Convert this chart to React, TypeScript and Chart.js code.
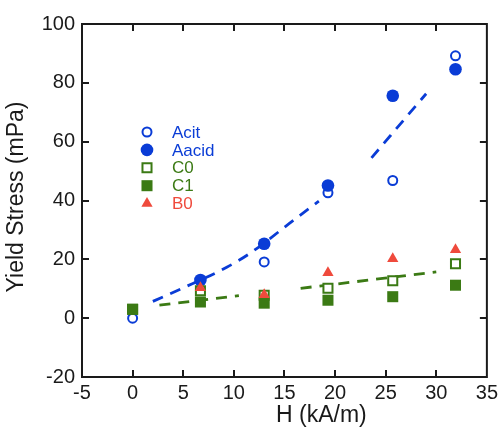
import React, { useEffect, useRef } from 'react';
import { Chart, registerables } from 'chart.js';

Chart.register(...registerables);

// ---- data ----
const H_VALUES = [0, 6.7, 13.0, 19.3, 25.7, 31.9];
const ACIT = [0, 13.0, 19.1, 42.6, 46.8, 89.2];
const AACID = [null, 13.0, 25.3, 45.1, 75.6, 84.6];
const C0 = [3.0, 9.3, 7.8, 10.2, 12.7, 18.5];
const C1 = [3.0, 5.5, 5.1, 6.1, 7.3, 11.2];
const B0 = [null, 10.3, 8.0, 15.4, 20.2, 23.3];

// dashed guide curves (read along the drawn dashes; null = gap)
const BLUE_FIT_X = [2.0, 4.8, 9.3, 11.7, 15.9, 18.4, 21.0, 23.6, 29.0];
const BLUE_FIT_Y = [5.7, 10.0, 17.3, 22.3, 33.3, 39.8, null, 54.5, 76.3];
const GREEN_FIT_X = [2.65, 10.5, 13.5, 16.6, 30.0];
const GREEN_FIT_Y = [4.4, 7.65, null, 10.15, 15.7];

const SERIES_LABELS = ['Acit', 'Aacid', 'C0', 'C1', 'B0'];
const X_MIN = -5;
const X_MAX = 35;
const X_STEP = 5;
const Y_MIN = -20;
const Y_MAX = 100;
const Y_STEP = 20;
const X_TITLE = 'H (kA/m)';
const Y_TITLE = 'Yield Stress (mPa)';

const BLUE = '#0a3cd6';
const GREEN = '#3b7a14';
const RED = '#ef4a3c';
const AXIS = '#1a1a1a';
const FONT = '"Liberation Sans", Arial, sans-serif';

function pts(xs: number[], ys: (number | null)[]) {
  return xs.map((x, i) => ({ x, y: ys[i] }));
}

function drawMarker(
  ctx: CanvasRenderingContext2D,
  style: string,
  x: number,
  y: number,
  r: number,
  fill: string,
  stroke: string,
  bw: number
) {
  ctx.save();
  ctx.beginPath();
  if (style === 'circle') {
    ctx.arc(x, y, r, 0, Math.PI * 2);
  } else if (style === 'rect') {
    const s = Math.SQRT1_2 * r;
    ctx.rect(x - s, y - s, 2 * s, 2 * s);
  } else if (style === 'triangle') {
    ctx.moveTo(x, y - r);
    ctx.lineTo(x + r * 0.866, y + r * 0.5);
    ctx.lineTo(x - r * 0.866, y + r * 0.5);
    ctx.closePath();
  }
  ctx.fillStyle = fill;
  ctx.fill();
  if (bw > 0) {
    ctx.lineWidth = bw;
    ctx.strokeStyle = stroke;
    ctx.stroke();
  }
  ctx.restore();
}

const decorPlugin = {
  id: 'decor',
  afterDraw(chart: any) {
    const { ctx, chartArea } = chart;
    const { left, right, top, bottom } = chartArea;
    const xs = chart.scales.x;
    const ys = chart.scales.y;
    const tl = 7;
    ctx.save();
    ctx.strokeStyle = AXIS;
    ctx.lineWidth = 2;
    ctx.strokeRect(left, top, right - left, bottom - top);
    ctx.lineWidth = 2;
    ctx.beginPath();
    xs.ticks.forEach((t: any) => {
      if (t.value <= X_MIN || t.value >= X_MAX) return;
      const px = Math.round(xs.getPixelForValue(t.value));
      ctx.moveTo(px, bottom);
      ctx.lineTo(px, bottom - tl);
      ctx.moveTo(px, top);
      ctx.lineTo(px, top + tl);
    });
    ys.ticks.forEach((t: any) => {
      if (t.value <= Y_MIN || t.value >= Y_MAX) return;
      const py = Math.round(ys.getPixelForValue(t.value));
      ctx.moveTo(left, py);
      ctx.lineTo(left + tl, py);
      ctx.moveTo(right, py);
      ctx.lineTo(right - tl, py);
    });
    ctx.stroke();

    // axis titles
    ctx.fillStyle = AXIS;
    ctx.font = `23px ${FONT}`;
    ctx.textBaseline = 'middle';
    ctx.textAlign = 'left';
    ctx.fillText(X_TITLE, 276, 416);
    ctx.save();
    ctx.translate(17, 197);
    ctx.rotate(-Math.PI / 2);
    ctx.textAlign = 'center';
    ctx.fillText(Y_TITLE, 0, 0);
    ctx.restore();

    // legend
    const mx = left + 65;
    const tx = left + 90;
    let ly = top + 108;
    ctx.font = `17px ${FONT}`;
    ctx.textAlign = 'left';
    SERIES_LABELS.forEach((lab) => {
      const ds = chart.data.datasets.find((d: any) => d.label === lab);
      if (!ds) return;
      drawMarker(
        ctx,
        ds.pointStyle,
        mx,
        ly,
        ds.legendRadius,
        ds.pointBackgroundColor,
        ds.pointBorderColor,
        ds.pointBorderWidth
      );
      ctx.fillStyle = ds.pointBorderColor;
      ctx.fillText(lab, tx, ly + 1);
      ly += 17.9;
    });
    ctx.restore();
  },
};

export default function App() {
  const ref = useRef<HTMLCanvasElement | null>(null);

  useEffect(() => {
    if (!ref.current) return;
    const scatterBase = { showLine: false, pointHoverRadius: 0 };
    const chart = new Chart(ref.current, {
      type: 'scatter',
      data: {
        datasets: [
          {
            label: 'blueFit',
            data: pts(BLUE_FIT_X, BLUE_FIT_Y),
            showLine: true,
            spanGaps: false,
            borderColor: BLUE,
            borderWidth: 2.8,
            borderDash: [11, 8],
            cubicInterpolationMode: 'monotone',
            pointRadius: 0,
            order: 9,
          } as any,
          {
            label: 'greenFit',
            data: pts(GREEN_FIT_X, GREEN_FIT_Y),
            showLine: true,
            spanGaps: false,
            borderColor: GREEN,
            borderWidth: 2.8,
            borderDash: [11, 8],
            pointRadius: 0,
            order: 8,
          } as any,
          {
            ...scatterBase,
            label: 'Acit',
            data: pts(H_VALUES, ACIT),
            pointStyle: 'circle',
            pointRadius: 4.5,
            legendRadius: 4.5,
            pointBackgroundColor: '#ffffff',
            pointBorderColor: BLUE,
            pointBorderWidth: 2,
            order: 5,
          } as any,
          {
            ...scatterBase,
            label: 'Aacid',
            data: pts(H_VALUES, AACID),
            pointStyle: 'circle',
            pointRadius: 6.3,
            legendRadius: 6.3,
            pointBackgroundColor: BLUE,
            pointBorderColor: BLUE,
            pointBorderWidth: 0,
            order: 4,
          } as any,
          {
            ...scatterBase,
            label: 'C0',
            data: pts(H_VALUES, C0),
            pointStyle: 'rect',
            pointRadius: 6.4,
            legendRadius: 6.4,
            pointBackgroundColor: '#ffffff',
            pointBorderColor: GREEN,
            pointBorderWidth: 2,
            order: 3,
          } as any,
          {
            ...scatterBase,
            label: 'C1',
            data: pts(H_VALUES, C1),
            pointStyle: 'rect',
            pointRadius: 7.8,
            legendRadius: 7.8,
            pointBackgroundColor: GREEN,
            pointBorderColor: GREEN,
            pointBorderWidth: 0,
            order: 2,
          } as any,
          {
            ...scatterBase,
            label: 'B0',
            data: pts(H_VALUES, B0),
            pointStyle: 'triangle',
            pointRadius: 6.5,
            legendRadius: 6.5,
            pointBackgroundColor: RED,
            pointBorderColor: RED,
            pointBorderWidth: 0,
            order: 1,
          } as any,
        ],
      },
      options: {
        responsive: false,
        animation: false,
        events: [],
        layout: { padding: { top: 24, right: 13, left: 0, bottom: 0 } },
        plugins: {
          legend: { display: false },
          tooltip: { enabled: false },
        },
        scales: {
          x: {
            type: 'linear',
            min: X_MIN,
            max: X_MAX,
            ticks: {
              stepSize: X_STEP,
              autoSkip: false,
              maxRotation: 0,
              color: AXIS,
              padding: 4,
              font: { family: FONT, size: 20 },
            },
            grid: { display: false, drawTicks: false },
            border: { display: false },
            afterFit: (s: any) => {
              s.height = 52;
            },
          },
          y: {
            type: 'linear',
            min: Y_MIN,
            max: Y_MAX,
            ticks: {
              stepSize: Y_STEP,
              color: AXIS,
              padding: 7,
              font: { family: FONT, size: 20 },
            },
            grid: { display: false, drawTicks: false },
            border: { display: false },
            afterFit: (s: any) => {
              s.width = 82;
            },
          },
        },
      } as any,
      plugins: [decorPlugin],
    });
    return () => chart.destroy();
  }, []);

  return (
    <div style={{ position: 'fixed', left: 0, top: 0, width: 502, height: 429, background: '#fff' }}>
      <canvas ref={ref} width={502} height={429} style={{ display: 'block', width: 502, height: 429 }} />
    </div>
  );
}
